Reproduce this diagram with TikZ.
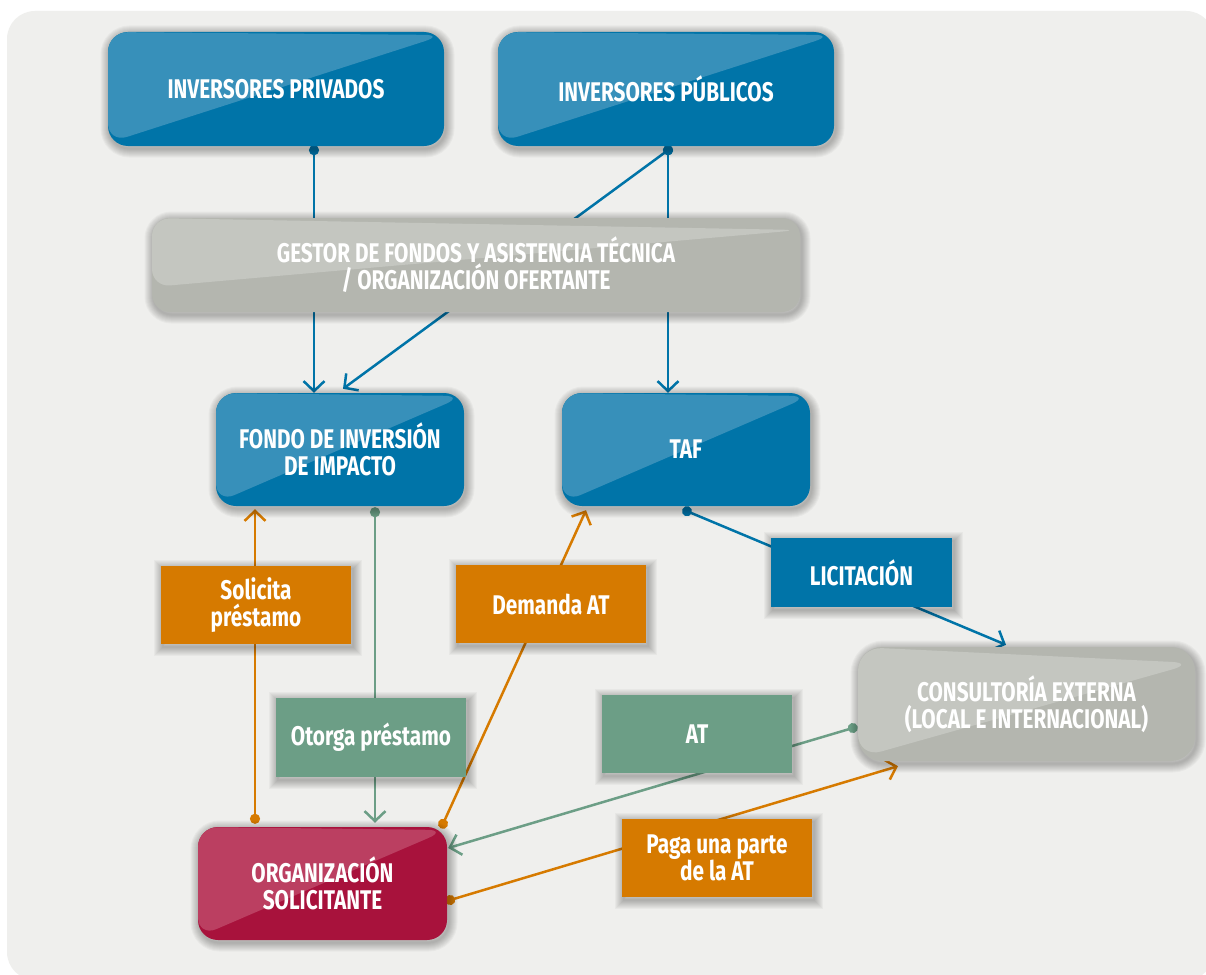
\documentclass[tikz,border=0pt]{standalone}
\usepackage{fontspec}
\setmainfont{Fira Sans}[FakeStretch=0.77]
\usetikzlibrary{arrows.meta,calc}
\pgfdeclarelayer{back}
\pgfdeclarelayer{background}
\pgfsetlayers{back,background,main}

\definecolor{pagebg}{HTML}{EFEFED}
\definecolor{blueD}{HTML}{0074A8}
\definecolor{blueL}{HTML}{3790BA}
\definecolor{grayD}{HTML}{B4B6AF}
\definecolor{grayL}{HTML}{C4C6C0}
\definecolor{redD}{HTML}{A8123C}
\definecolor{redL}{HTML}{BB3F61}
\definecolor{orangeC}{HTML}{D67A00}
\definecolor{greenC}{HTML}{6C9E86}

\tikzset{
  x=1pt, y=1pt,
  txt/.style={text=white, align=center, font=\bfseries\fontsize{27}{27}\selectfont},
  % one translucent outline stroke of the soft drop shadow
  sh/.style={preaction={draw=black, draw opacity=.03, line width=#1,
               transform canvas={xshift=1.5pt, yshift=-2.5pt}}},
  shade box/.style={sh=18pt, sh=16pt, sh=14pt, sh=12pt, sh=10pt, sh=8pt,
                    sh=6pt, sh=4pt, sh=2pt},
  % rounded box with a lighter upper-left triangle
  duo/.style n args={5}{txt, shade box, rounded corners=20pt, fill=#1,
      minimum width=#3, minimum height=#4, inner sep=0pt,
      path picture={\fill[#2] ([yshift=#5]path picture bounding box.south west)
        -- ([yshift=-#5]path picture bounding box.north east)
        -- (path picture bounding box.north west) -- cycle;}},
  bluebox/.style n args={2}{duo={blueD}{blueL}{#1}{#2}{3pt}},
  tag/.style={txt, shade box, minimum width=190pt, minimum height=78pt, inner sep=0pt},
  link/.style={line width=2.5pt,
      {Circle[length=10pt]}-{Straight Barb[length=10pt,width=21pt,line width=2.5pt]},
      shorten <=-5pt},
  bl/.style={link, draw=blueD},
  gl/.style={link, draw=greenC},
  ol/.style={link, draw=orangeC},
}

\begin{document}
\begin{tikzpicture}
\useasboundingbox (0,0) rectangle (1206,-974);
\begin{pgfonlayer}{back}
  \fill[white] (0,0) rectangle (1206,-974);
  \fill[pagebg, rounded corners=28pt] (7,-11) rectangle (1214,-980);
\end{pgfonlayer}

% actors
\node[bluebox={336pt}{114pt}] (priv) at (276,-89) {INVERSORES PRIVADOS};
\node[bluebox={336pt}{114pt}] (pub) at (666,-89) {INVERSORES PÚBLICOS};
\node[duo={grayD}{grayL}{648pt}{94pt}{0pt}, rounded corners=18pt,
      path picture={\fill[grayL] ([yshift=25pt]path picture bounding box.south west)
        -- ([yshift=-12pt]path picture bounding box.north east)
        -- (path picture bounding box.north west) -- cycle;}] (gest) at (476,-265)
  {GESTOR DE FONDOS Y ASISTENCIA TÉCNICA\\/ ORGANIZACIÓN OFERTANTE};
\node[bluebox={248pt}{113pt}] (fondo) at (340,-449.5) {FONDO DE INVERSIÓN\\DE IMPACTO};
\node[bluebox={248pt}{113pt}] (taf) at (686,-449.5) {TAF};
\node[duo={grayD}{grayL}{337pt}{114pt}{0pt}, rounded corners=24pt,
      path picture={\fill[grayL] ([yshift=3pt]path picture bounding box.south west)
        -- ([yshift=-16pt]path picture bounding box.north east)
        -- (path picture bounding box.north west) -- cycle;}] (cons) at (1026.5,-704)
  {CONSULTORÍA EXTERNA\\(LOCAL E INTERNACIONAL)};
\node[duo={redD}{redL}{249pt}{113pt}{3pt}] (org) at (322.5,-883.5)
  {ORGANIZACIÓN\\SOLICITANTE};

% flow labels
\node[tag, fill=blueD, minimum width=181pt, minimum height=69pt] (lic) at (861.5,-572.5) {LICITACIÓN};
\node[tag, fill=orangeC] (sol) at (256,-605) {Solicita\\préstamo};
\node[tag, fill=orangeC] (dem) at (551,-604) {Demanda AT};
\node[tag, fill=greenC, minimum height=79pt] (oto) at (371,-737.5) {Otorga préstamo};
\node[tag, fill=greenC] (at) at (697,-734) {AT};
\node[tag, fill=orangeC] (paga) at (717,-858) {Paga una parte\\de la AT};

% connectors run behind the boxes
\begin{pgfonlayer}{background}
  \draw[bl] ([shift={(38pt,-4pt)}]priv.south) coordinate (a1) -- (a1 |- fondo.north);
  \draw[bl] ([shift={(2pt,-4pt)}]pub.south) coordinate (a2) -- (a2 |- taf.north);
  \draw[bl] (a2) -- ([shift={(3pt,4pt)}]fondo.north);
  \draw[gl] ([shift={(35pt,-6pt)}]fondo.south) coordinate (a4) -- ([yshift=4pt]a4 |- org.north);
  \draw[ol] ([shift={(-67.5pt,8pt)}]org.north) coordinate (a5) -- ([yshift=-3pt]a5 |- fondo.south);
  \draw[ol] ([shift={(120.5pt,3pt)}]org.north) -- ([shift={(-100pt,-4pt)}]taf.south);
  \draw[bl] ([shift={(1pt,-5pt)}]taf.south) -- ([shift={(-20.5pt,2pt)}]cons.north);
  \draw[gl] ([shift={(-5pt,-24pt)}]cons.west) -- ([shift={(1pt,35.5pt)}]org.east);
  \draw[ol] ([shift={(3pt,-16.5pt)}]org.east) -- ([shift={(-128.5pt,-5pt)}]cons.south);
\end{pgfonlayer}
\end{tikzpicture}
\end{document}
